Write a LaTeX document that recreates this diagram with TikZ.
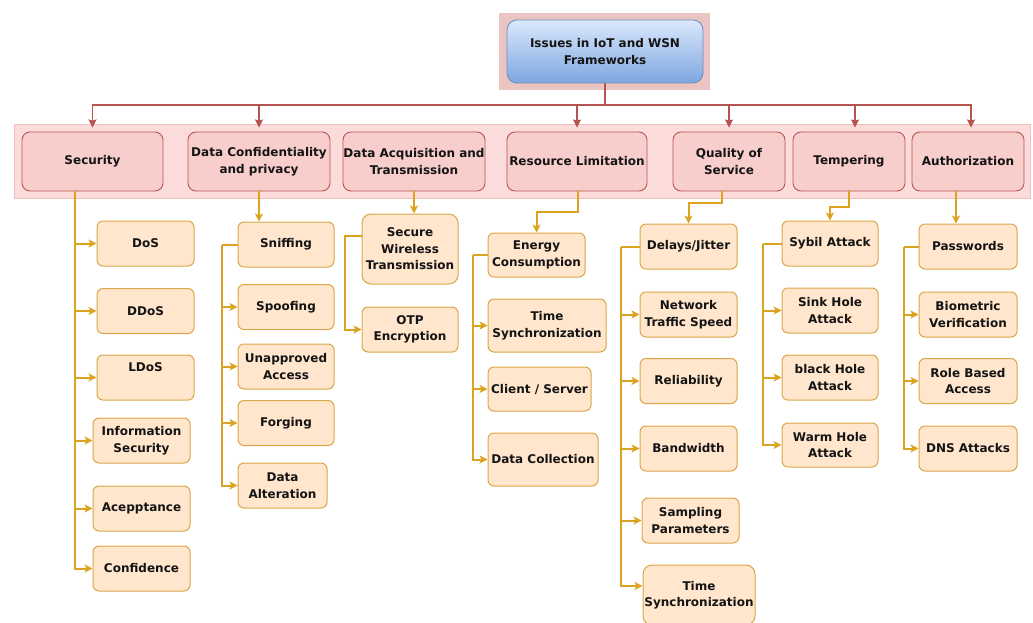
\documentclass[tikz,border=0pt]{standalone}
\usepackage{fontspec}
\setmainfont{DejaVu Sans}
\usetikzlibrary{arrows.meta,calc}
\definecolor{redl}{HTML}{B85450}
\definecolor{catfill}{HTML}{F8CECC}
\definecolor{bandfill}{HTML}{FBDCDB}
\definecolor{bandline}{HTML}{F0BEBC}
\definecolor{topfill}{HTML}{E9C4C0}
\definecolor{bluetop}{HTML}{DAE8FC}
\definecolor{bluebot}{HTML}{7EA6E0}
\definecolor{blueline}{HTML}{6C8EBF}
\definecolor{orl}{HTML}{DCA320}
\definecolor{subline}{HTML}{D9A748}
\definecolor{subfill}{HTML}{FFE6CC}
\definecolor{txt}{HTML}{141414}
\tikzset{
  lbl/.style={font=\fontsize{12}{16.5}\selectfont\bfseries, text=txt, align=center, inner sep=0pt},
  cat/.style={lbl, draw=redl, fill=catfill, line width=0.9pt, rounded corners=8pt, minimum height=59pt},
  sub/.style={lbl, draw=subline, fill=subfill, line width=1pt, rounded corners=6pt, minimum width=97pt, minimum height=45pt},
  redarr/.style={draw=redl, line width=1.6pt, -{Stealth[length=8pt,width=8pt,inset=1pt]}},
  orarr/.style={draw=orl, line width=2pt, -{Stealth[length=8pt,width=8pt,inset=2pt]}},
  orline/.style={draw=orl, line width=2pt}
}
\begin{document}
\begin{tikzpicture}[x=1pt,y=-1pt]
\useasboundingbox (0,0) rectangle (1033,623);
% background shapes
\fill[topfill] (499,13) rectangle (710,90);
\draw[bandline, fill=bandfill, line width=0.8pt] (14,124) rectangle (1030,198);
% top node
\node[lbl, draw=blueline, line width=0.8pt, rounded corners=10pt, top color=bluetop, bottom color=bluebot,
  minimum width=196pt, minimum height=63pt] (top) at (605,51.5) {Issues in IoT and WSN\\Frameworks};
% categories
\node[cat, minimum width=141pt] (sec) at (92.5,161.5) {Security};
\node[cat, minimum width=142pt] (dcp) at (259,161.5) {Data Confidentiality\\and privacy};
\node[cat, minimum width=142pt] (daq) at (414,161.5) {Data Acquisition and\\Transmission};
\node[cat, minimum width=140pt] (res) at (577,161.5) {Resource Limitation};
\node[cat, minimum width=112pt] (qos) at (729,161.5) {Quality of\\Service};
\node[cat, minimum width=112pt] (tmp) at (849,161.5) {Tempering};
\node[cat, minimum width=112pt] (aut) at (968,161.5) {Authorization};
% red connectors
\coordinate (J) at (605,105);
\draw[redarr] (top.south) -- (J) -| ([yshift=4]sec.north);
\draw[redarr] (top.south) -- (J) -| ([yshift=4]dcp.north);
\draw[redarr] (top.south) -- (J) -| ([yshift=4]res.north);
\draw[redarr] (top.south) -- (J) -| ([yshift=4]qos.north);
\draw[redarr] (top.south) -- (J) -| ([xshift=6,yshift=4]tmp.north);
\draw[redarr] (top.south) -- (J) -| ([xshift=3,yshift=4]aut.north);
% Security column
\node[sub] (dos) at (145.5,243.5) {DoS};
\node[sub] (ddos) at (145.5,311) {DDoS};
\node[sub] (ldos) at (145.5,377.5) {LDoS\\[4pt]\mbox{}};
\node[sub] (infs) at (141.5,440.5) {Information\\Security};
\node[sub] (acep) at (141.5,508.5) {Acepptance};
\node[sub] (conf) at (141.5,568.5) {Confidence};
\coordinate (st) at ([xshift=-17.5]sec.south);
\foreach \n in {dos,ddos,ldos,infs,acep,conf} \draw[orarr] (st) |- (\n.west);
% Data confidentiality column
\node[sub, minimum width=96pt] (snif) at (286,244.5) {Sniffing};
\node[sub, minimum width=96pt] (spoof) at (286,307) {Spoofing};
\node[sub, minimum width=96pt] (unap) at (286,366.5) {Unapproved\\Access};
\node[sub, minimum width=96pt] (forg) at (286,423) {Forging};
\node[sub, minimum width=89pt] (dalt) at (282.5,485.5) {Data\\Alteration};
\draw[orarr] (dcp.south) -- (dcp.south |- snif.north);
\coordinate (dt) at ([xshift=-16]snif.west);
\draw[orline] (snif.west) -- (dt);
\foreach \n in {spoof,unap,forg,dalt} \draw[orarr] (dt) |- (\n.west);
% Data acquisition column
\node[sub, minimum width=96pt, minimum height=70pt, rounded corners=9pt] (swt) at (410,249) {Secure\\Wireless\\Transmission};
\node[sub, minimum width=96pt] (otp) at (410,329.5) {OTP\\Encryption};
\draw[orarr] (daq.south) -- (daq.south |- swt.north);
\draw[orarr] ([yshift=13]swt.west) -- ++(-17,0) |- (otp.west);
% Resource column
\node[sub, minimum width=97pt, minimum height=44pt] (ene) at (536.5,255) {Energy\\Consumption};
\node[sub, minimum width=118pt, minimum height=53pt] (ts1) at (547,325.5) {Time\\Synchronization};
\node[sub, minimum width=103pt, minimum height=44pt] (cs) at (539.5,389) {Client / Server};
\node[sub, minimum width=110pt, minimum height=53pt] (dc) at (543,459.5) {Data Collection};
\draw[orarr] ([xshift=1]res.south) -- ++(0,21) -| (ene.north);
\coordinate (rt) at ([xshift=-15]ene.west);
\draw[orline] (ene.west) -- (rt);
\foreach \n in {ts1,cs,dc} \draw[orarr] (rt) |- (\n.west);
% QoS column
\node[sub] (dj) at (688.5,246.5) {Delays/Jitter};
\node[sub] (nts) at (688.5,314.5) {Network\\Traffic Speed};
\node[sub] (rel) at (688.5,381) {Reliability};
\node[sub] (bw) at (688.5,448.5) {Bandwidth};
\node[sub] (sp) at (690.5,520.5) {Sampling\\Parameters};
\node[sub, minimum width=112pt, minimum height=60pt, rounded corners=9pt] (ts2) at (699,595) {Time\\Synchronization};
\draw[orarr] ([xshift=-7]qos.south) -- ++(0,12) -| (dj.north);
\coordinate (qt) at ([xshift=-19]dj.west);
\draw[orline] (dj.west) -- (qt);
\foreach \n in {nts,rel,bw,sp} \draw[orarr] (qt) |- (\n.west);
\draw[orarr] (qt) |- ([yshift=9]ts2.west);
% Tempering column
\node[sub, minimum width=96pt] (syb) at (830,243.5) {Sybil Attack};
\node[sub, minimum width=96pt] (sink) at (830,310.5) {Sink Hole\\Attack};
\node[sub, minimum width=96pt] (blk) at (830,377.5) {black Hole\\Attack};
\node[sub, minimum width=96pt, minimum height=44pt] (warm) at (830,445) {Warm Hole\\Attack};
\draw[orarr] (tmp.south) -- ++(0,16) -| (syb.north);
\coordinate (tt) at ([xshift=-19]syb.west);
\draw[orline] (syb.west) -- (tt);
\foreach \n in {sink,blk,warm} \draw[orarr] (tt) |- (\n.west);
% Authorization column
\node[sub, minimum width=98pt] (pw) at (968,246.5) {Passwords};
\node[sub, minimum width=98pt] (bio) at (968,314.5) {Biometric\\Verification};
\node[sub, minimum width=98pt] (rba) at (968,381) {Role Based\\Access};
\node[sub, minimum width=98pt] (dns) at (968,448.5) {DNS Attacks};
\draw[orarr] ([xshift=-12]aut.south) -- ([xshift=-12]aut.south |- pw.north);
\coordinate (at) at ([xshift=-15]pw.west);
\draw[orline] (pw.west) -- (at);
\foreach \n in {bio,rba,dns} \draw[orarr] (at) |- (\n.west);
\end{tikzpicture}
\end{document}
